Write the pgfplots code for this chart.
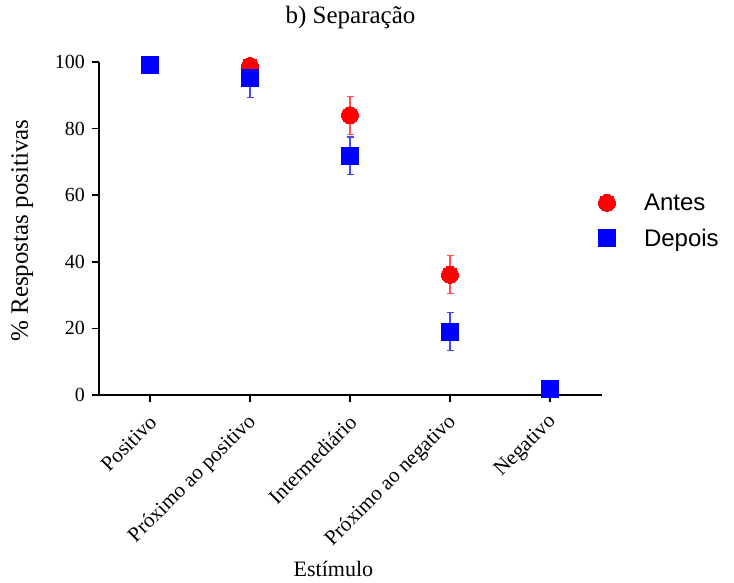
\documentclass[border=0pt]{standalone}
\usepackage{fontspec}
\setmainfont{Liberation Serif}
\newfontfamily\arial{Liberation Sans}
\usepackage{pgfplots}
\pgfplotsset{compat=1.18}
\definecolor{myred}{RGB}{255,0,0}
\definecolor{myblue}{RGB}{0,0,255}
\definecolor{ered}{RGB}{255,80,80}
\definecolor{eblue}{RGB}{70,70,255}
\begin{document}
\begin{tikzpicture}
\begin{axis}[
  scale only axis, width=503pt, height=333pt,
  xmin=-0.51, xmax=4.52, ymin=0, ymax=100,
  axis lines=left, axis line style={-, line width=1.6pt},
  clip=false,
  xtick={0,1,2,3,4},
  xticklabels={Positivo, Próximo ao positivo, Intermediário, Próximo ao negativo, Negativo},
  ytick={0,20,40,60,80,100},
  tick align=outside, major tick length=7pt,
  every tick/.style={black, line width=1.6pt},
  /pgf/number format/assume math mode=true,
  yticklabel style={font=\fontsize{20}{24}\selectfont, inner sep=0pt, xshift=-7pt, anchor=east},
  xticklabel style={font=\fontsize{21}{25}\selectfont, inner sep=0pt, xshift=3pt, yshift=-17pt, rotate=45, anchor=east},
  title={b) Separação},
  every axis title/.style={at={(rel axis cs:0.5,1)}, yshift=38pt, anchor=base, font=\fontsize{25}{30}\selectfont},
  xlabel={Estímulo},
  every axis x label/.style={at={(rel axis cs:0.466,0)}, yshift=-181pt, anchor=base, font=\fontsize{22}{26}\selectfont},
  ylabel={\% Respostas positivas},
  every axis y label/.style={at={(rel axis cs:0,0.494)}, xshift=-71pt, rotate=90, anchor=base, font=\fontsize{25}{30}\selectfont},
  legend entries={Antes, Depois},
  legend cell align=left,
  legend style={draw=none, fill=none, inner sep=0pt, outer sep=0pt,
    font=\arial\fontsize{24}{28}\selectfont,
    at={(axis cs:4.48,61.6)}, anchor=north west, row sep=9pt,
    nodes={inner xsep=7pt, inner ysep=4pt}},
  legend image code/.code={\draw plot coordinates {(0pt,0pt)}; \path[draw=none, fill=none] (-9pt,-9pt) rectangle (30pt,9pt);},
]
\addplot[color=myred, only marks, mark=*, mark size=8.5pt, mark options={draw=myred, line width=0pt, fill=myred},
  error bars/.cd, y dir=both, y explicit,
  error bar style={line width=1.2pt, ered},
  error mark options={rotate=90, mark size=3.5pt, line width=1.2pt, ered}]
  coordinates {
    (0,99.0) += (0,0) -= (0,0)
    (1,98.8) += (0,0) -= (0,5.4)
    (2,84.0) += (0,5.7) -= (0,5.7)
    (3,36.1) += (0,5.7) -= (0,5.7)
    (4,1.7) += (0,0) -= (0,0)
  };
\addplot[color=myblue, only marks, mark=square*, mark size=8.5pt, mark options={draw=myblue, line width=0pt, fill=myblue},
  error bars/.cd, y dir=both, y explicit,
  error bar style={line width=1.2pt, eblue},
  error mark options={rotate=90, mark size=3.5pt, line width=1.2pt, eblue}]
  coordinates {
    (0,99.1) += (0,0) -= (0,0)
    (1,95.1) += (0,0) -= (0,5.7)
    (2,71.8) += (0,5.7) -= (0,5.7)
    (3,19.0) += (0,5.7) -= (0,5.7)
    (4,1.7) += (0,0) -= (0,0)
  };
\end{axis}
\pgfresetboundingbox
\path[use as bounding box] (-99pt,-188pt) rectangle (635pt,395pt);
\end{tikzpicture}
\end{document}
